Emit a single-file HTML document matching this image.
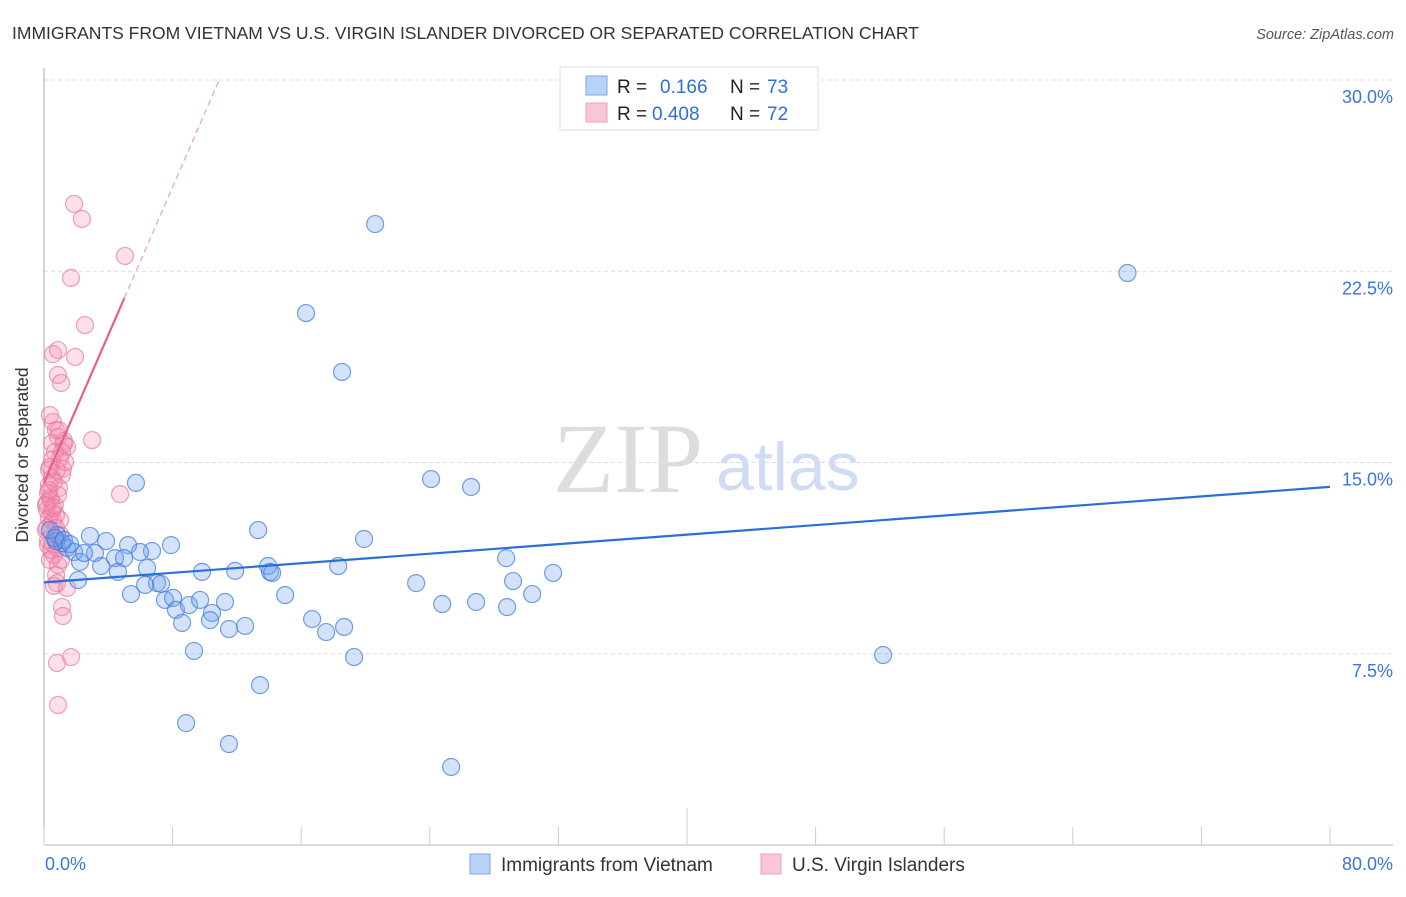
<!DOCTYPE html>
<html><head><meta charset="utf-8"><style>
body{margin:0;background:#fff;font-family:"Liberation Sans",sans-serif}
svg text{font-family:"Liberation Sans",sans-serif}
</style></head><body>
<svg id="chart" width="1406" height="892" viewBox="0 0 1406 892">
<text x="12" y="39" font-size="17.5" fill="#333">IMMIGRANTS FROM VIETNAM VS U.S. VIRGIN ISLANDER DIVORCED OR SEPARATED CORRELATION CHART</text>
<text x="1394" y="39" font-size="14.5" fill="#555" font-style="italic" text-anchor="end">Source: ZipAtlas.com</text>
<g>
<text x="553" y="492" font-size="100" fill="#ddd" font-family="Liberation Serif" style="font-family:'Liberation Serif',serif">ZIP</text>
<text x="716" y="490" font-size="68" fill="#cfdcf3">atlas</text>
</g>
<g id="grid"></g>
<g id="axes"></g>
<g id="pts"></g>
<g id="trend"></g>
<g>
<rect x="560" y="67" width="258" height="63" fill="#fff" stroke="#ddd"/>
<rect x="586" y="76" width="21" height="19" fill="#b9d2f5" stroke="#7ba5e6"/>
<rect x="586" y="103" width="21" height="19" fill="#f9c6d5" stroke="#eea0ba"/>
<text x="617" y="93" font-size="19" fill="#222">R =</text><text x="660" y="93" font-size="19" fill="#2f6fd6">0.166</text>
<text x="730" y="93" font-size="19" fill="#222">N =</text><text x="767" y="93" font-size="19" fill="#2f6fd6">73</text>
<text x="617" y="120" font-size="19" fill="#222">R =</text><text x="652" y="120" font-size="19" fill="#2f6fd6">0.408</text>
<text x="730" y="120" font-size="19" fill="#222">N =</text><text x="767" y="120" font-size="19" fill="#2f6fd6">72</text>
</g>
<g>
<rect x="470" y="854" width="20" height="20" fill="#b9d2f5" stroke="#7ba5e6"/>
<text x="501" y="871" font-size="19" fill="#333">Immigrants from Vietnam</text>
<rect x="761" y="854" width="20" height="20" fill="#f9c6d5" stroke="#eea0ba"/>
<text x="792" y="871" font-size="19" fill="#333">U.S. Virgin Islanders</text>
</g>
<text x="28" y="455" font-size="17.5" fill="#333" text-anchor="middle" transform="rotate(-90 28 455)">Divorced or Separated</text>
</svg>
<script>
const blueX=[20.6,16.3,18.54,67.4,52.2,24.08,26.57,5.72,13.32,19.91,2.86,3.86,5.23,6.72,7.9,0.81,1.12,1.43,1.87,2.24,3.17,3.55,4.42,4.6,4.98,5.97,6.41,7.03,7.28,6.29,5.41,2.12,7.53,8.03,8.21,9.02,9.71,8.59,10.45,10.33,11.26,11.51,12.51,9.83,11.89,13.94,14.06,14.19,15.0,16.68,17.55,18.67,18.3,19.29,23.15,24.77,26.88,28.81,29.18,30.37,31.67,28.75,9.33,13.44,8.84,11.51,25.33,0.75,0.37,0.68,1.24,2.49,1.62];
const blueY=[24.35,20.86,18.55,22.43,7.45,14.35,14.04,14.2,12.35,12.0,12.12,11.92,11.76,11.53,11.76,12.16,11.84,11.65,11.49,11.1,11.45,10.94,11.25,10.71,11.25,11.49,10.86,10.27,10.24,10.2,9.84,10.39,9.61,9.69,9.22,9.41,9.61,8.71,9.1,8.82,9.53,8.47,8.59,10.71,10.75,10.94,10.71,10.67,9.8,8.86,8.35,8.55,10.94,7.37,10.27,9.45,9.53,9.33,10.35,9.84,10.67,11.25,7.61,6.27,4.78,3.96,3.06,11.92,12.35,12.04,11.96,11.45,11.8];
const pinkX=[1.87,2.36,5.04,1.68,2.55,0.87,0.56,1.93,0.87,1.06,2.99,4.73,0.56,0.75,0.87,1.24,1.43,0.5,0.68,1.0,0.37,1.18,1.12,0.5,0.31,0.93,0.25,0.37,0.19,0.19,0.5,0.75,0.31,0.56,0.19,1.0,0.56,0.81,0.62,0.37,0.87,0.75,0.81,0.62,1.43,1.12,1.18,1.68,0.81,0.87,0.25,0.12,1.24,0.5,0.81,1.0,0.25,0.44,0.68,1.12,1.31,0.37,0.62,0.31,0.87,0.56,0.44,0.12,0.75,0.31,1.06,0.93];
const pinkY=[25.14,24.55,23.1,22.24,20.39,19.41,19.25,19.14,18.43,18.12,15.88,13.76,16.59,16.27,16.0,15.84,15.61,15.76,15.41,15.18,14.82,14.75,14.51,14.39,14.12,14.0,13.8,13.61,13.41,13.14,13.06,12.94,12.82,12.67,12.43,12.75,11.8,11.65,11.37,11.18,10.98,10.59,10.27,10.16,10.08,9.33,8.98,7.37,7.14,5.49,11.96,12.35,15.73,15.1,14.71,12.16,11.76,13.53,13.33,15.41,15.02,16.86,14.24,14.71,13.73,13.22,11.57,13.33,12.43,13.92,11.18,16.27];
const yTicks=[7.5,15.0,22.5,30.0];
const yTickLabels=["7.5%","15.0%","22.5%","30.0%"];
const xTicks=[0,8,16,24,32,40,48,56,64,72,80];
const blueTrend=[10.3,0.0468];
const pinkTrend=[14.2,1.45,5.0];
const NS='http://www.w3.org/2000/svg';
const X=v=>44+v*16.075, Y=v=>845-v*25.5;
function mk(tag,attrs,parent){const e=document.createElementNS(NS,tag);for(const k in attrs)e.setAttribute(k,attrs[k]);document.getElementById(parent).appendChild(e);return e;}
yTicks.forEach((t,i)=>{
 const g=mk('line',{x1:44,x2:1393,y1:Y(t),y2:Y(t),stroke:'#ddd','stroke-dasharray':'4 3'},'grid');
 
 
 const l=mk('text',{x:1393,y:Y(t)+23,'font-size':18,fill:'#3b75d9','text-anchor':'end'},'grid');
 l.textContent=yTickLabels[i];
 
 
});
const ax=mk('line',{x1:44,x2:44,y1:68,y2:845,stroke:'#aaa'},'axes');


const bx=mk('line',{x1:44,x2:1393,y1:845,y2:845,stroke:'#bbb'},'axes');


xTicks.forEach(t=>{
 const tk=mk('line',{x1:X(t),x2:X(t),y1:(t==40?808:827),y2:845,stroke:'#ccc'},'axes');
 
 
});
const x0=mk('text',{x:45,y:870,'font-size':18,fill:'#3b75d9'},'axes');x0.textContent='0.0%';


const x1=mk('text',{x:1393,y:870,'font-size':18,fill:'#3b75d9','text-anchor':'end'},'axes');x1.textContent='80.0%';


pinkX.forEach((v,i)=>{
 const c=mk('circle',{cx:X(v),cy:Y(pinkY[i]),r:8.5,fill:'rgba(244,140,175,0.28)',stroke:'rgba(232,120,160,0.7)','stroke-width':1.2},'pts');
 
 
});
blueX.forEach((v,i)=>{
 const c=mk('circle',{cx:X(v),cy:Y(blueY[i]),r:8.5,fill:'rgba(110,160,235,0.3)',stroke:'rgba(60,120,220,0.7)','stroke-width':1.2},'pts');
 
 
});
const bl=mk('line',{x1:X(0),y1:Y(blueTrend[0]),x2:X(80),y2:Y(blueTrend[0]+blueTrend[1]*80),stroke:'#2a6fd6','stroke-width':2.2},'trend');


const pe=pinkTrend[2], pyEnd=pinkTrend[0]+pinkTrend[1]*pe, xDash=(30-pinkTrend[0])/pinkTrend[1];
const ps=mk('line',{x1:X(0),y1:Y(pinkTrend[0]),x2:X(pe),y2:Y(pyEnd),stroke:'#e8608a','stroke-width':2.2},'trend');


const pd=mk('line',{x1:X(pe),y1:Y(pyEnd),x2:X(xDash),y2:Y(30),stroke:'#eea0b8','stroke-width':1.2,'stroke-dasharray':'6 4'},'trend');


</script>
</body></html>
